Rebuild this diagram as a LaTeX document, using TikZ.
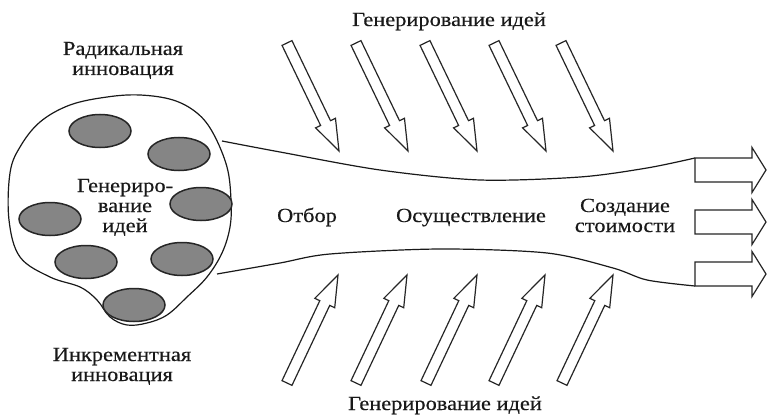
\documentclass[tikz,border=0pt]{standalone}
\usepackage{fontspec}
\setmainfont{Liberation Serif}[FakeStretch=1.12,FakeBold=0.35]
\usetikzlibrary{calc,shapes.geometric}
\newcommand\hollowarr[2]{%
  \coordinate (hb) at ($(#2)!31pt!(#1)$);
  \draw[arrowline] ($(#1)!5.5pt!90:(#2)$) -- ($(hb)!5.5pt!90:(#2)$) -- ($(hb)!11pt!90:(#2)$) -- (#2)
    -- ($(hb)!11pt!-90:(#2)$) -- ($(hb)!5.5pt!-90:(#2)$) -- ($(#1)!5.5pt!-90:(#2)$) -- cycle;}
\newcommand\outarr[1]{%
  \draw[arrowline] (695,#1-12) -- (752,#1-12) -- (752,#1-22.5) -- (766,#1) -- (752,#1+22.5)
    -- (752,#1+12) -- (695,#1+12) -- cycle;}
\begin{document}
\begin{tikzpicture}[x=1pt,y=-1pt,
  lbl/.style={font=\fontsize{20}{20}\selectfont, align=center, inner sep=0pt, text=black!90},
  blobline/.style={line width=1.2pt, draw=black!90},
  arrowline/.style={line width=1.2pt, draw=black!85, fill=white, line join=miter},
  idea/.style={ellipse, draw=black!85, line width=1.5pt, fill=black!48, minimum width=62pt, minimum height=33pt, inner sep=0pt}]
\useasboundingbox[fill=white] (0,0) rectangle (768,417);

% blob
\draw[blobline] plot[smooth cycle, tension=0.6] coordinates {
  (10,173) (20,147) (40,122) (70,105) (107,97) (140,95) (173,100) (197,113) (213,133)
  (227,167) (231,200) (230,227) (222,253) (207,277) (187,297) (167,315) (147,323)
  (127,325) (110,317) (97,300) (80,287) (50,277) (20,257) (9,220)};

% ideas
\node[idea] (e1) at (100,131) {};
\node[idea] (e2) at (179,154) {};
\node[idea] (e3) at (201,204) {};
\node[idea] (e4) at (50,219) {};
\node[idea] (e5) at (86,262) {};
\node[idea] (e6) at (182,259) {};
\node[idea] (e7) at (134,305) {};

% funnel
\coordinate (ustart) at (222,141);
\coordinate (uend) at (695,158);
\coordinate (lstart) at (217,274);
\coordinate (lend) at (695,286);
\draw[blobline] plot[smooth] coordinates {(ustart) (280,152) (380,170) (480,180) (580,177) (647,168) (uend)};
\draw[blobline] plot[smooth] coordinates {(lstart) (280,263) (330,254) (440,249) (547,253) (613,268) (647,280) (lend)};

% output arrows
\outarr{170}
\outarr{222}
\outarr{274}

% idea arrows
\foreach \i/\x in {1/339,2/408,3/477,4/546,5/613}{
  \coordinate (ta\i) at (\x-52,43);
  \coordinate (pa\i) at (\x,151);
  \hollowarr{ta\i}{pa\i}
}
\foreach \i/\x in {1/338,2/407,3/477,4/545,5/613}{
  \coordinate (tb\i) at (\x-51,383);
  \coordinate (pb\i) at (\x,275);
  \hollowarr{tb\i}{pb\i}
}

% labels (base anchor = baseline of last line)
\node[lbl, anchor=base] (rad) at (123,75) {Радикальная\\инновация};
\node[lbl, anchor=base] (gen) at (125,232) {Генериро-\\вание\\идей};
\node[lbl, anchor=base] (inc) at (122,381) {Инкрементная\\инновация};
\node[lbl, anchor=base] (top) at (449,26) {Генерирование идей};
\node[lbl, anchor=base] (bot) at (445,410) {Генерирование идей};
\node[lbl, anchor=base] (otb) at (307,222) {Отбор};
\node[lbl, anchor=base] (osu) at (471,222) {Осуществление};
\node[lbl, anchor=base] (soz) at (625,232) {Создание\\стоимости};
\end{tikzpicture}
\end{document}
